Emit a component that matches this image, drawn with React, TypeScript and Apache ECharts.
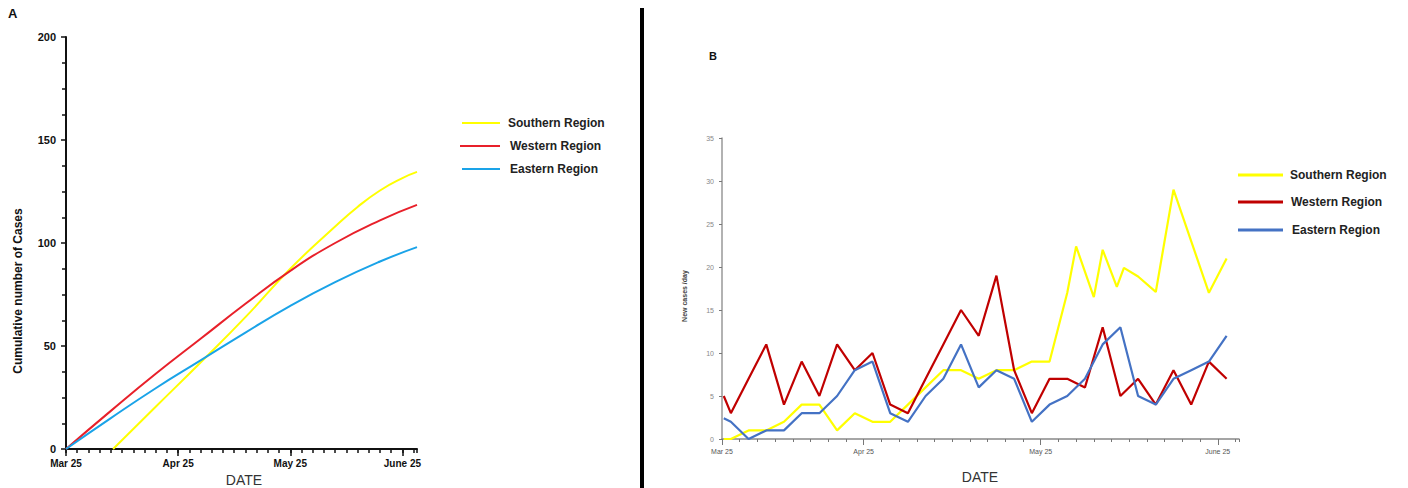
import React, { useEffect, useRef } from "react";
import * as echarts from "echarts";

// ---------- Panel A: cumulative cases (x in tick units, 10 ticks ≈ 1 month) ----------
const cumLabels: Record<number, string> = { 0: "Mar 25", 10: "Apr 25", 20: "May 25", 30: "June 25" };
const southernCumX = [4.2, 8, 12, 16, 20, 24, 26, 28, 30, 31.3];
const southernCum = [0, 20.5, 42, 64, 87.5, 108, 117.5, 125.5, 131.5, 134.5];
const westernCumX = [0, 4, 8, 12, 16, 20, 24, 28, 31.3];
const westernCum = [0, 18.5, 36.5, 53.5, 70.5, 86.5, 100, 111, 118.5];
const easternCumX = [0, 4, 8, 12, 16, 20, 24, 28, 31.3];
const easternCum = [0, 15, 29.5, 43, 56.5, 69.5, 81, 91, 98];

// ---------- Panel B: new cases per day ----------
const dailyLabels: Record<number, string> = { 0: "Mar 25", 8: "Apr 25", 18: "May 25", 28: "June 25" };
const dailyX = [0.1, 0.5, 1.5, 2.5, 3.5, 4.5, 5.5, 6.5, 7.5, 8.5, 9.5, 10.5, 11.5, 12.5, 13.5, 14.5, 15.5, 16.5, 17.5, 18.5, 19.5, 20.5, 21.5, 22.5, 23.5, 24.5, 25.5, 26.5, 27.5, 28.5];
const westernDaily = [5, 3, 7, 11, 4, 9, 5, 11, 8, 10, 4, 3, 7, 11, 15, 12, 19, 8, 3, 7, 7, 6, 13, 5, 7, 4, 8, 4, 9, 7];
const easternDaily = [2.4, 2, 0, 1, 1, 3, 3, 5, 8, 9, 3, 2, 5, 7, 11, 6, 8, 7, 2, 4, 5, 7, 11, 13, 5, 4, 7, 8, 9, 12];
const southernDailyX = [0.1, 0.5, 1.5, 2.5, 3.5, 4.5, 5.5, 6.5, 7.5, 8.5, 9.5, 10.5, 11.5, 12.5, 13.5, 14.5, 15.5, 16.5, 17.5, 18.5, 19.5, 20.0, 21.0, 21.5, 22.3, 22.7, 23.5, 24.5, 25.5, 27.5, 28.5];
const southernDaily = [0, 0, 1, 1, 2, 4, 4, 1, 3, 2, 2, 4, 6, 8, 8, 7, 8, 8, 9, 9, 17, 22.4, 16.5, 22, 17.7, 19.9, 18.9, 17.1, 29, 17, 21];

const regionNames = ["Southern Region", "Western Region", "Eastern Region"];

const zip = (xs: number[], ys: number[]) => xs.map((x, i) => [x, ys[i]]);

const FONT = 'Arial, "Liberation Sans", sans-serif';

export default function App() {
  const ref = useRef<HTMLDivElement>(null);
  useEffect(() => {
    if (!ref.current) return;
    const chart = echarts.init(ref.current, null, { renderer: "svg" });

    const leftColors = ["#ffff00", "#e8202a", "#1aa3e8"];
    const rightColors = ["#ffff00", "#c00000", "#4472c4"];

    const legendA: any[] = [];
    const legendAY = [123, 146, 169];
    const legendAX = [508, 510, 510];
    regionNames.forEach((n, i) => {
      legendA.push({ type: "line", shape: { x1: i === 1 ? 460 : 462, y1: legendAY[i], x2: 500, y2: legendAY[i] }, style: { stroke: leftColors[i], lineWidth: 2 } });
      legendA.push({ type: "text", x: legendAX[i], y: legendAY[i], style: { text: n, fill: "#222", font: `bold 12px ${FONT}`, textVerticalAlign: "middle" } });
    });
    const legendB: any[] = [];
    const legendBY = [175, 202, 230];
    const legendBX = [1290, 1291, 1292];
    regionNames.forEach((n, i) => {
      legendB.push({ type: "line", shape: { x1: 1238, y1: legendBY[i], x2: 1283, y2: legendBY[i] }, style: { stroke: rightColors[i], lineWidth: 3 } });
      legendB.push({ type: "text", x: legendBX[i], y: legendBY[i], style: { text: n, fill: "#222", font: `bold 12px ${FONT}`, textVerticalAlign: "middle" } });
    });

    const option: any = {
      animation: false,
      backgroundColor: "#ffffff",
      textStyle: { fontFamily: FONT },
      grid: [
        { left: 66, top: 37, width: 351, height: 412, outerBoundsMode: "none", containLabel: false },
        { left: 722, top: 138, width: 517, height: 301, outerBoundsMode: "none", containLabel: false },
      ],
      xAxis: [
        {
          gridIndex: 0, type: "value", min: 0, max: 31.3, interval: 1,
          axisLine: { show: true, lineStyle: { color: "#111", width: 2 } },
          axisTick: { show: true, length: 4, lineStyle: { color: "#111", width: 1.5 } },
          axisLabel: { fontSize: 10, fontWeight: "bold", color: "#111", margin: 9, formatter: (v: number) => cumLabels[v] ?? "" },
          splitLine: { show: false },
        },
        {
          gridIndex: 0, type: "value", min: 0, max: 31.3, position: "bottom",
          axisLine: { show: false },
          axisTick: { show: true, customValues: [0, 10, 20, 30], length: 7, lineStyle: { color: "#111", width: 1.5 } },
          axisLabel: { show: false },
          splitLine: { show: false },
        },
        {
          gridIndex: 1, type: "value", min: 0, max: 29.2, interval: 1,
          axisLine: { show: true, lineStyle: { color: "#888", width: 1.5 } },
          axisTick: { show: true, length: 3, lineStyle: { color: "#777", width: 1 } },
          axisLabel: { fontSize: 7, color: "#555", margin: 9, formatter: (v: number) => dailyLabels[v] ?? "" },
          splitLine: { show: false },
        },
        {
          gridIndex: 1, type: "value", min: 0, max: 29.2, position: "bottom",
          axisLine: { show: false },
          axisTick: { show: true, customValues: [0, 8, 18, 28], length: 6, lineStyle: { color: "#777", width: 1 } },
          axisLabel: { show: false },
          splitLine: { show: false },
        },
      ],
      yAxis: [
        {
          gridIndex: 0, type: "value", min: 0, max: 200, interval: 50,
          axisLine: { show: true, lineStyle: { color: "#111", width: 2 } },
          axisTick: { show: true, length: 5, lineStyle: { color: "#111", width: 1.5 } },
          minorTick: { show: true, splitNumber: 4, length: 4, lineStyle: { color: "#111", width: 1.5 } },
          axisLabel: { fontSize: 11, fontWeight: "bold", color: "#111", margin: 10 },
          splitLine: { show: false },
          minorSplitLine: { show: false },
        },
        {
          gridIndex: 1, type: "value", min: 0, max: 35, interval: 5,
          axisLine: { show: true, lineStyle: { color: "#999", width: 1.5 } },
          axisTick: { show: true, length: 3, lineStyle: { color: "#777", width: 1 } },
          axisLabel: { fontSize: 7, color: "#888", margin: 8 },
          splitLine: { show: false },
        },
      ],
      series: [
        { name: regionNames[0], type: "line", xAxisIndex: 0, yAxisIndex: 0, smooth: true, symbol: "none", data: zip(southernCumX, southernCum), lineStyle: { color: leftColors[0], width: 2 }, itemStyle: { color: leftColors[0] } },
        { name: regionNames[1], type: "line", xAxisIndex: 0, yAxisIndex: 0, smooth: true, symbol: "none", data: zip(westernCumX, westernCum), lineStyle: { color: leftColors[1], width: 2 }, itemStyle: { color: leftColors[1] } },
        { name: regionNames[2], type: "line", xAxisIndex: 0, yAxisIndex: 0, smooth: true, symbol: "none", data: zip(easternCumX, easternCum), lineStyle: { color: leftColors[2], width: 2 }, itemStyle: { color: leftColors[2] } },
        { name: regionNames[0], type: "line", xAxisIndex: 2, yAxisIndex: 1, symbol: "none", data: zip(southernDailyX, southernDaily), lineStyle: { color: rightColors[0], width: 2.2 }, itemStyle: { color: rightColors[0] } },
        { name: regionNames[1], type: "line", xAxisIndex: 2, yAxisIndex: 1, symbol: "none", data: zip(dailyX, westernDaily), lineStyle: { color: rightColors[1], width: 2.2 }, itemStyle: { color: rightColors[1] } },
        { name: regionNames[2], type: "line", xAxisIndex: 2, yAxisIndex: 1, symbol: "none", data: zip(dailyX, easternDaily), lineStyle: { color: rightColors[2], width: 2.2 }, itemStyle: { color: rightColors[2] } },
      ],
      graphic: [
        { type: "text", x: 8, y: 7, style: { text: "A", fill: "#111", font: `bold 13px ${FONT}` } },
        { type: "text", x: 709, y: 50, style: { text: "B", fill: "#111", font: `bold 11px ${FONT}` } },
        { type: "line", shape: { x1: 642, y1: 8, x2: 642, y2: 488 }, style: { stroke: "#000", lineWidth: 4 } },
        { type: "text", x: 18, y: 291, rotation: Math.PI / 2, style: { text: "Cumulative number of Cases", fill: "#111", font: `bold 12px ${FONT}`, textAlign: "center", textVerticalAlign: "middle" } },
        { type: "text", x: 244, y: 480, style: { text: "DATE", fill: "#333", font: `14px ${FONT}`, textAlign: "center", textVerticalAlign: "middle" } },
        { type: "text", x: 684, y: 296, rotation: Math.PI / 2, style: { text: "New cases /day", fill: "#444", font: `bold 7px ${FONT}`, textAlign: "center", textVerticalAlign: "middle" } },
        { type: "text", x: 980, y: 477, style: { text: "DATE", fill: "#333", font: `14px ${FONT}`, textAlign: "center", textVerticalAlign: "middle" } },
        ...legendA,
        ...legendB,
      ],
    };
    chart.setOption(option);
    return () => chart.dispose();
  }, []);

  return (
    <div
      ref={ref}
      style={{ position: "fixed", left: 0, top: 0, width: 1408, height: 488, background: "#fff" }}
    />
  );
}
